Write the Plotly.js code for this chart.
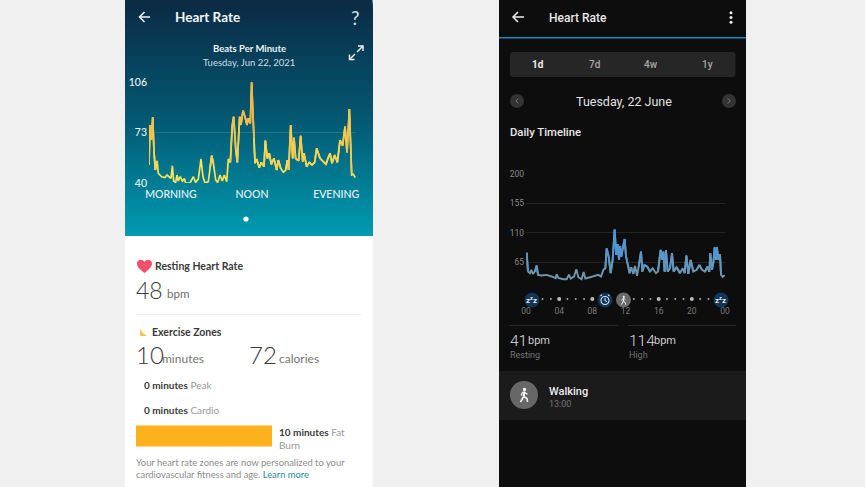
<!DOCTYPE html>
<html><head><meta charset="utf-8">
<script src="https://cdn.plot.ly/plotly-3.0.1.min.js"></script>
<style>html,body{margin:0;padding:0;background:#f0f0f0}#g{width:865px;height:487px}</style>
</head><body><div id="g"></div>
<script>
// ---- data ----
const fitbitHours=[0,.12,.27,.43,.58,.73,.93,1.08,1.47,1.86,2.09,2.32,2.55,2.71,2.86,3.09,3.25,3.4,3.63,3.87,4.1,4.25,4.75,5.14,5.41,5.72,6.03,6.26,6.49,6.88,7.07,7.27,7.46,7.73,7.96,8.23,8.5,8.73,9.01,9.2,9.43,9.66,9.82,10.05,10.24,10.51,10.67,10.9,11.13,11.36,11.52,11.75,11.9,12.17,12.29,12.48,12.79,13.02,13.33,13.49,13.72,13.95,14.18,14.49,14.8,14.99,15.27,15.58,15.85,16.04,16.19,16.43,16.66,16.81,17,17.35,17.58,17.82,17.97,18.28,18.59,18.9,19.21,19.44,19.83,20.21,20.52,20.75,20.99,21.22,21.53,21.84,22.15,22.45,22.73,22.96,23.23,23.5,23.69,23.92];
const fitbitBpm=[51.8,77.9,68.1,82.9,60.5,48.5,54.4,46.3,44.1,43.5,45.2,44.1,43,51.3,41.3,40.4,45.2,41.3,44.1,41.3,43,40,40,44.1,40.4,42.6,55.7,44.1,40,40.9,49.6,57.9,52.9,42,40.4,45.2,41.3,45.2,40.9,55.7,53.5,77.9,83.3,62.7,53.5,83.3,77.9,87.3,83.3,77.9,82.3,79,105.8,69.2,52.9,55.7,50,53.5,50.7,67.7,56.1,59.4,52.2,56.1,48.5,55,49.6,47,48.5,55,48.5,77.9,56.1,69.6,56.1,54.4,70.9,53.9,59.4,50.7,53.5,51.8,53.5,62.7,56.1,53.9,52.2,56.1,59.4,52.9,58.3,53.5,68.1,64.4,76.8,60,88.4,45.2,45.7,43.5];
const fitbitTicks=[40,73,106];
const dayparts=['MORNING','NOON','EVENING'];
const daypartHours=[2.55,11.94,21.7];

const garminHours=[.08,.24,.48,.64,.84,1.05,1.29,1.45,1.89,2.49,3.1,3.58,3.7,3.9,4.5,4.9,5.19,5.39,5.79,6.07,6.31,6.71,6.95,7.16,7.72,8.32,8.72,9.05,9.33,9.57,9.73,9.97,10.21,10.45,10.69,10.89,11.05,11.22,11.34,11.5,11.67,11.9,12.06,12.3,12.5,12.7,12.94,13.15,13.39,13.59,13.87,14.03,14.27,14.63,14.95,15.28,15.68,15.92,16.08,16.24,16.4,16.56,16.72,16.88,17.09,17.37,17.61,17.81,18.17,18.57,18.89,19.13,19.34,19.58,19.86,20.18,20.58,20.91,21.23,21.59,21.87,22.11,22.23,22.43,22.59,22.75,22.91,23.03,23.2,23.4,23.52,23.72,23.96];
const garminBpm=[79.7,50.8,48.3,53.4,47.3,50.8,60,45.8,44.8,45.8,43.3,40.7,46.8,41.2,39.2,39.2,46.3,40.2,43.3,54.4,42.2,39.2,50.3,40.2,42.2,44.3,45.8,43.3,53.4,55.9,86.2,73.6,48.3,68.5,115,76.1,92.8,68.5,89.8,73.6,87.8,100.4,73.6,61,48.3,57.4,47.3,59.4,44.3,58.4,81.2,50.8,61,58.4,50.8,55.9,48.3,50.8,68.5,83.7,68.5,81.2,50.8,83.7,50.8,55.9,78.7,50.8,57.4,48.3,55.9,48.3,75.1,47.3,68.5,50.8,53.4,61,53.4,50.8,58.4,50.8,78.7,53.4,63.5,87.8,68.5,87.8,68.5,77.1,45.8,42.8,45.3];
const garminTicks=[65,110,155,200];
const hourTicks=[0,4,8,12,16,20,24];
const hourLabels=['00','04','08','12','16','20','00'];
const minorDots=[2,3,5,6,7,13,14,15,17,18,19,21,22];
const majorDots=[4,8,16,20];

const zoneNames=['Fat Burn','Cardio','Peak'];
const zoneMinutes=[10,0,0];

// ---- pixel helpers for the app chrome around the charts ----
const W=865,H=487;
const fx=p=>p/W, fy=p=>1-p/H;
const shapes=[],notes=[];
function rect(x0,y0,x1,y1,fill,layer){shapes.push({type:'rect',xref:'paper',yref:'paper',x0:fx(x0),x1:fx(x1),y0:fy(y0),y1:fy(y1),fillcolor:fill,line:{width:0},layer:layer||'below'});}
function circle(cx,cy,r,fill,lineCol,lw){shapes.push({type:'circle',xref:'paper',yref:'paper',x0:fx(cx-r),x1:fx(cx+r),y0:fy(cy-r),y1:fy(cy+r),fillcolor:fill,line:{width:lw||0,color:lineCol||fill},layer:'above'});}
function path(cmds,stroke,lw,fill){
  const d=cmds.map(c=>{let s=c[0];for(let i=1;i<c.length;i+=2)s+=(i>1?',':'')+fx(c[i])+','+fy(c[i+1]);return s;}).join(' ');
  shapes.push({type:'path',xref:'paper',yref:'paper',path:d,line:{width:stroke?lw:0,color:stroke||'rgba(0,0,0,0)'},fillcolor:fill||'rgba(0,0,0,0)',layer:'above'});
}
function seg(x0,y0,x1,y1,c,lw){path([['M',x0,y0],['L',x1,y1]],c,lw);}
function txt(x,y,s,size,color,o){o=o||{};notes.push({xref:'paper',yref:'paper',x:fx(x),y:fy(y),text:s,showarrow:false,xanchor:o.a||'left',yanchor:'middle',
  font:{family:o.f||'Lato',size:size,color:color,weight:o.w||400},borderpad:0,borderwidth:0});}
function arrow(x0,x1,y,c,lw){seg(x0,y,x1,y,c,lw);path([['M',x0+5,y-5],['L',x0,y],['L',x0+5,y+5]],c,lw);}
function walker(cx,cy,s,c){
  circle(cx+.5*s,cy-5.5*s,1.7*s,c);
  path([['M',cx+.3*s,cy-3*s],['L',cx-.3*s,cy+1.5*s]],c,2.2*s);
  path([['M',cx-.3*s,cy+1.5*s],['L',cx-3.5*s,cy+7*s]],c,1.6*s);
  path([['M',cx-.3*s,cy+1.5*s],['L',cx+3*s,cy+3.5*s],['L',cx+3.5*s,cy+7*s]],c,1.6*s);
  path([['M',cx-3*s,cy+.5*s],['L',cx-1.5*s,cy-2.5*s],['L',cx+.5*s,cy-3*s],['L',cx+3.5*s,cy-.5*s]],c,1.2*s);
}
function sleep(cx,cy){circle(cx,cy,7.5,'#11365a');txt(cx-.3,cy+.3,'z<sup>z</sup>z',8,'#f0f0f0',{a:'center',f:'Roboto',w:700});}

// ---- panels ----
const gradTop=[11,42,68],gradMid=[3,88,114],gradBot=[0,156,178];
for(let y=0;y<236;y+=2){
  const t=y/236,[a,b,u]=t<.5?[gradTop,gradMid,t*2]:[gradMid,gradBot,t*2-1];
  rect(125,y,372.5,236,`rgb(${a.map((v,i)=>Math.round(v+(b[i]-v)*u)).join(',')})`);
}
rect(125,236,372.5,487,'#ffffff');
rect(499,0,746,487,'#0d0d0e');
rect(499,37,746,38.6,'#1d87c4');
path([['M',513,52],['L',732,52],['Q',735.5,52,735.5,55],['L',735.5,74],['Q',735.5,77,732,77],['L',513,77],['Q',510,77,510,74],['L',510,55],['Q',510,52,513,52]],null,0,'#262627');
rect(499,371,746,420,'#1b1b1c');

// ---- left app chrome ----
arrow(139.5,150,17,'#f2f6f8',1.5);
txt(175,17,'Heart Rate',13.5,'#f2f6f8',{w:700});
txt(355,17,'?',19,'#d5e0e6',{a:'center'});
txt(249,49,'Beats Per Minute',9.5,'#eef4f6',{a:'center',w:700});
txt(249,62.5,'Tuesday, Jun 22, 2021',9.5,'#cfdfe6',{a:'center'});
path([['M',357,52],['L',363,46]],'#f2f6f8',1.4);path([['M',358,46],['L',363,46],['L',363,51]],'#f2f6f8',1.4);
path([['M',355,54],['L',349.5,59.5]],'#f2f6f8',1.4);path([['M',349.5,54.5],['L',349.5,59.5],['L',354.5,59.5]],'#f2f6f8',1.4);
circle(246,219,2.6,'#ffffff');

path([['M',144.5,273],['C',138,268,137,265.5,137,263.5],['C',137,259.5,142.5,258.5,144.5,262],['C',146.5,258.5,152,259.5,152,263.5],['C',152,265.5,151,268,144.5,273],['Z']],null,0,'#f2506a');
txt(155,266,'Resting Heart Rate',10.5,'#3a3a3a',{w:700});
txt(136,289.5,'48',23,'#3b3b3b',{w:300});
txt(167,293,'bpm',11.5,'#6e6e6e');
rect(136,314,361,315,'#efefef');
path([['M',140,336],['L',140,329],['L',143,333],['L',147,336],['Z']],null,0,'#f3c550');
txt(152,332,'Exercise Zones',10.5,'#3a3a3a',{w:700});
txt(136,354,'10',24,'#3b3b3b',{w:300});
txt(162,358,'minutes',12,'#757575');
txt(249,354,'72',24,'#3b3b3b',{w:300});
txt(279,358,'calories',12,'#757575');
txt(144,384.5,'<b>0 minutes</b> <span style="fill:#9a9a9a">Peak</span>',10,'#3a3a3a');
txt(144,410,'<b>0 minutes</b> <span style="fill:#9a9a9a">Cardio</span>',10,'#3a3a3a');
txt(279,432,'<b>10 minutes</b> <span style="fill:#9a9a9a">Fat</span>',10,'#3a3a3a');
txt(279,444.5,'Burn',10,'#9a9a9a');
txt(136,462.5,'Your heart rate zones are now personalized to your',9.4,'#8d8d8d');
txt(136,474.5,'cardiovascular fitness and age. <span style="fill:#2b8b96">Learn more</span>',9.4,'#8d8d8d');

// ---- right app chrome ----
arrow(513,524,17,'#f0f0f0',1.5);
txt(549,18,'Heart Rate',12,'#e8e8e8',{f:'Roboto',w:500});
[12.8,17.5,22.2].forEach(y=>circle(731,y,1.5,'#f0f0f0'));
txt(538,64.5,'1d',10,'#f0f0f0',{a:'center',f:'Roboto',w:700});
txt(594.5,64.5,'7d',10,'#a8a8a8',{a:'center',f:'Roboto',w:500});
txt(650.5,64.5,'4w',10,'#a8a8a8',{a:'center',f:'Roboto',w:500});
txt(707,64.5,'1y',10,'#a8a8a8',{a:'center',f:'Roboto',w:500});
circle(517,101,7,'#333334');circle(729,101,7,'#333334');
path([['M',518.3,98.5],['L',515.8,101],['L',518.3,103.5]],'#777',1);
path([['M',727.7,98.5],['L',730.2,101],['L',727.7,103.5]],'#777',1);
txt(623.5,101.5,'Tuesday, 22 June',12.5,'#e2e2e2',{a:'center',f:'Roboto'});
txt(510,132.5,'Daily Timeline',11.3,'#e8e8e8',{f:'Roboto',w:500});
rect(509,325,618,325.8,'#343434');rect(628,325,736,325.8,'#343434');
txt(510,340.5,'41',15.5,'#dcdcdc',{f:'Roboto',w:300});
txt(528,340.5,'bpm',11,'#cfcfcf',{f:'Roboto'});
txt(510,355,'Resting',9,'#747474',{f:'Roboto'});
txt(629,340.5,'114',15.5,'#dcdcdc',{f:'Roboto',w:300});
txt(654,340.5,'bpm',11,'#cfcfcf',{f:'Roboto'});
txt(629,355,'High',9,'#747474',{f:'Roboto'});
circle(524,395,14,'#676767');walker(524,395,1,'#f4f4f4');
txt(549,391,'Walking',11,'#eeeeee',{f:'Roboto',w:500});
txt(549,403.5,'13:00',9,'#747474',{f:'Roboto'});
sleep(532,300);sleep(721,300);
circle(605,300,7.5,'#11365a');circle(605,300.5,4,'rgba(0,0,0,0)','#dfe6ea',1.1);
seg(605,298,605,300.7,'#dfe6ea',1);seg(605,300.7,607,301.5,'#dfe6ea',1);
seg(600.5,296,602,294.6,'#dfe6ea',1.1);seg(609.5,296,608,294.6,'#dfe6ea',1.1);
circle(623.5,300,7.5,'#6a6a6a');walker(623.5,300.3,.62,'#f0f0f0');

// ---- marks ----
function hexLerp(a,b,t){return 'rgb('+a.map((v,i)=>Math.round(v+(b[i]-v)*t)).join(',')+')';}
function bandedLine(xs,ys,ax,ay,lo,hi,cLo,cHi,lw){
  const out=[{type:'scatter',mode:'lines',x:xs,y:ys,xaxis:ax,yaxis:ay,cliponaxis:false,line:{width:lw,color:hexLerp(cLo,cHi,0)}}];
  const n=6,bx=[...Array(n)].map(()=>[]),by=[...Array(n)].map(()=>[]);
  for(let i=0;i<xs.length-1;i++){
    const m=(ys[i]+ys[i+1])/2,b=Math.min(n-1,Math.max(0,Math.floor((m-lo)/(hi-lo)*n)));
    bx[b].push(xs[i],xs[i+1],null);by[b].push(ys[i],ys[i+1],null);
  }
  for(let b=1;b<n;b++)out.push({type:'scatter',mode:'lines',x:bx[b],y:by[b],xaxis:ax,yaxis:ay,cliponaxis:false,line:{width:lw,color:hexLerp(cLo,cHi,(b+.5)/n)}});
  return out;
}
const traces=[
  ...bandedLine(fitbitHours,fitbitBpm,'x','y',40,106,[252,228,88],[243,164,62],1.7),
  ...bandedLine(garminHours,garminBpm,'x2','y2',40,115,[112,150,172],[60,152,236],1.9),
  {type:'scatter',mode:'markers',x:minorDots,y:minorDots.map(()=>9),xaxis:'x2',yaxis:'y2',marker:{size:2,color:'#a8a8a8'}},
  {type:'scatter',mode:'markers',x:majorDots,y:majorDots.map(()=>9),xaxis:'x2',yaxis:'y2',marker:{size:4,color:'#bdbdbd'}},
  {type:'bar',orientation:'h',x:zoneMinutes,y:zoneNames,xaxis:'x3',yaxis:'y3',width:.8,marker:{color:'#fdb11c'}},
  {type:'scatter',mode:'lines',x:[0,0],y:[.6,1.4],xaxis:'x3',yaxis:'y3',line:{width:1.4,color:'#f3bd74'}},
  {type:'scatter',mode:'lines',x:[0,0],y:[1.6,2.4],xaxis:'x3',yaxis:'y3',line:{width:1.4,color:'#e8617c'}}
];
const base={zeroline:false,showline:false,ticks:'',fixedrange:true,automargin:false};
const layout={
  width:W,height:H,margin:{l:0,r:0,t:0,b:0},paper_bgcolor:'#f0f0f0',plot_bgcolor:'rgba(0,0,0,0)',showlegend:false,
  hovermode:false,shapes:shapes,annotations:notes,
  xaxis:{...base,domain:[fx(149),fx(356)],range:[0,24],showgrid:false,tickvals:daypartHours,ticktext:dayparts,tickfont:{family:'Lato',size:10.5,color:'#eef4f6',weight:500},ticklabelstandoff:3},
  yaxis:{...base,domain:[fy(183),fy(82)],range:[40,106],tickvals:fitbitTicks,showgrid:true,gridcolor:'rgba(255,255,255,.13)',gridwidth:1,tickfont:{family:'Lato',size:10.5,color:'#eef4f6',weight:500},ticklabelstandoff:1},
  xaxis2:{...base,domain:[fx(526),fx(725)],range:[0,24],anchor:'y2',showgrid:false,tickvals:hourTicks,ticktext:hourLabels,tickfont:{family:'Roboto',size:8.5,color:'#7c7c7c'},ticklabelstandoff:0},
  yaxis2:{...base,domain:[fy(304.9),fy(173.7)],range:[0,200],anchor:'x2',tickvals:garminTicks,showgrid:true,gridcolor:'#232324',gridwidth:1,tickfont:{family:'Roboto',size:8.5,color:'#8a8a8a'},ticklabelstandoff:1},
  xaxis3:{...base,domain:[fx(136),fx(272)],range:[0,10],anchor:'y3',showgrid:false,showticklabels:false},
  yaxis3:{...base,domain:[fy(449),fy(371)],range:[-.5,2.5],anchor:'x3',type:'category',categoryorder:'array',categoryarray:zoneNames,showgrid:false,showticklabels:false}
};
Plotly.newPlot('g',traces,layout,{displayModeBar:false,staticPlot:true});
</script></body></html>
